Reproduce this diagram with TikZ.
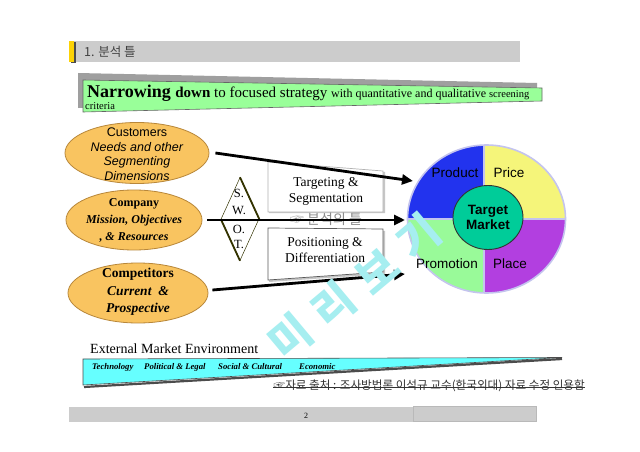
\documentclass[tikz,border=0pt]{standalone}
\usepackage{fontspec}
\setmainfont{Liberation Serif}
\setsansfont{Liberation Sans}
\newfontfamily\kr{Noto Sans CJK KR}
\usetikzlibrary{shapes.geometric,arrows.meta}
\definecolor{barg}{HTML}{CCCCCC}
\definecolor{bannerg}{HTML}{99FF99}
\definecolor{ellfill}{HTML}{F9C460}
\definecolor{ellshadow}{HTML}{B8873A}
\definecolor{prodc}{HTML}{2233EE}
\definecolor{pricec}{HTML}{F5F57A}
\definecolor{promoc}{HTML}{99FA99}
\definecolor{placec}{HTML}{B23FE0}
\definecolor{tmc}{HTML}{00CC99}
\definecolor{lav}{HTML}{C4C4EE}
\definecolor{envc}{HTML}{66FFFF}
\definecolor{wmc}{HTML}{A6EEF0}
\definecolor{olive}{HTML}{333300}
\tikzset{
  envell/.style={ellipse, fill=ellfill, draw=ellshadow, line width=0.8pt, inner sep=0pt},
  elltext/.style={align=center, inner sep=0pt},
  arr/.style={line width=2.8pt, -{Triangle[length=11pt,width=10pt]}},
  swotl/.style={font=\fontsize{12.5}{13}\selectfont, inner sep=0pt},
  boxtext/.style={align=center, font=\fontsize{13.5}{16}\selectfont, inner sep=0pt},
  mixl/.style={font=\sffamily\fontsize{13.5}{14}\selectfont, inner sep=0pt},
  envword/.style={anchor=base west, font=\bfseries\itshape\fontsize{8.7}{9}\selectfont, inner sep=0pt},
  wm/.style={text=wmc, font=\kr\bfseries\fontsize{44}{44}\selectfont, rotate=40, inner sep=0pt}
}
\begin{document}
\begin{tikzpicture}[x=1pt,y=-1pt]
\useasboundingbox (0,0) rectangle (640,452);
\fill[white] (0,0) rectangle (640,452);

% title bar
\fill[barg] (69,41) rectangle (520,62);
\fill[black!70] (71,42) rectangle (76,63);
\fill[yellow!70!orange] (69,41) rectangle (74,62);
\node[anchor=west, font=\kr\fontsize{12.5}{14}\selectfont, text=black!75, inner sep=0pt] (title) at (84,52) {1. 분석 틀};

% banner
\fill[gray!75] (78,73) -- (537,83) -- (537,98) -- (78,108) -- cycle;
\filldraw[fill=bannerg, draw=black!60, line width=0.6pt] (83,80) -- (542,88) -- (542,101) -- (83,112) -- cycle;
\node[anchor=base west, inner sep=0pt] (head) at (87,97) {{\fontsize{18}{18}\selectfont\bfseries Narrowing }{\fontsize{15}{15}\selectfont\bfseries down }{\fontsize{15}{15}\selectfont to focused strategy }{\fontsize{12}{12}\selectfont with quantitative and qualitative }{\fontsize{10.5}{10.5}\selectfont screening}};
\node[anchor=base west, inner sep=0pt, font=\fontsize{10.5}{11}\selectfont] (crit) at (85,110) {criteria};

% ellipses
\node[envell, minimum width=144pt, minimum height=61pt] (cust) at (137,153) {};
\node[envell, minimum width=136pt, minimum height=60pt] (comp) at (134,220) {};
\node[envell, minimum width=140pt, minimum height=60pt] (compet) at (138,293) {};
\node[elltext, font=\sffamily\fontsize{12.5}{14.5}\selectfont] (custt) at (137,154) {Customers\\\textit{Needs and other}\\\textit{Segmenting}\\\textit{Dimensions}};
\node[elltext, font=\bfseries\fontsize{12}{17}\selectfont] (compt) at (134,220) {Company\\\textit{Mission, Objectives}\\\textit{, \& Resources}};
\node[elltext, font=\bfseries\fontsize{13.5}{17.5}\selectfont] (compett) at (138,292) {Competitors\\\textit{Current\ \ \&}\\\textit{Prospective}};

% boxes
\fill[gray!45] (269,164) -- (385,172) -- (385,213) -- (269,213) -- cycle;
\filldraw[fill=white, draw=gray!60, line width=0.7pt] (268,162) -- (383,171) -- (383,212) -- (268,212) -- cycle;
\node[boxtext] (tseg) at (326,191) {Targeting \&\\Segmentation};
\fill[gray!45] (269,230) -- (385,231) -- (385,274) -- (269,282) -- cycle;
\filldraw[fill=white, draw=black!65, line width=0.7pt] (268,228) -- (383,229) -- (383,272) -- (268,280) -- cycle;
\node[boxtext] (pdiff) at (325,250) {Positioning \&\\Differentiation};

% faint label
\node[font=\kr\fontsize{14}{14}\selectfont, text=black!45, inner sep=0pt] (faint) at (326,219) {☞ 분석의 틀};

% SWOT diamond
\node[diamond, draw=olive, line width=0.5pt, fill=white, minimum width=38pt, minimum height=83pt, inner sep=0pt] (swot) at (240,219) {};
\draw[olive, line width=1.8pt] (swot.north) -- (swot.east);
\draw[olive, line width=1.8pt] (swot.west) -- (swot.south);
\node[swotl] (s) at (239,193) {S.};
\node[swotl] (w) at (239,211) {W.};
\node[swotl] (o) at (239,229) {O.};
\node[swotl] (t) at (239,244) {T.};

% marketing mix circle
\node[ellipse, minimum width=158pt, minimum height=148pt, inner sep=0pt] (mix) at (486.5,219) {};
\begin{scope}
\clip (486.5,219) ellipse [x radius=79, y radius=74];
\fill[prodc] (400,140) rectangle (484,219);
\fill[pricec] (484,140) rectangle (570,219);
\fill[promoc] (400,219) rectangle (484,300);
\fill[placec] (484,219) rectangle (570,300);
\draw[lav, line width=2.4pt] (400,219) -- (570,219);
\draw[lav, line width=2.4pt] (484,140) -- (484,300);
\end{scope}
\draw[lav, line width=1.6pt] (486.5,219) ellipse [x radius=79, y radius=74];
\node[mixl] (prod) at (455,173) {Product};
\node[mixl] (price) at (509,173) {Price};
\node[mixl] (promo) at (447,264) {Promotion};
\node[mixl] (place) at (510,264) {Place};
\node[ellipse, fill=tmc, draw=black!80, line width=0.9pt, minimum width=70pt, minimum height=64pt, inner sep=0pt, align=center, font=\sffamily\bfseries\fontsize{13.5}{15.5}\selectfont] (tm) at (488,217.5) {Target\\Market};

% arrows
\coordinate (e1) at (413,181);
\coordinate (e2) at (405,220);
\coordinate (e3) at (405,274);
\draw[arr] ([xshift=6pt]cust.east) -- (e1);
\draw[arr] ([xshift=5pt]comp.east) -- (e2);
\draw[arr] ([xshift=4pt,yshift=3pt]compet.east) -- (e3);

% external market environment
\node[anchor=base west, font=\fontsize{14}{14}\selectfont, inner sep=0pt] (ext) at (90,353) {External Market Environment};
\draw[black!70, line width=2.2pt] (84,387) -- (562,359);
\filldraw[fill=envc, draw=black!70, line width=0.6pt] (83,359) -- (562,357.5) -- (83,385) -- cycle;
\node[envword] (tech) at (92,369) {Technology};
\node[envword] (pol) at (144,369) {Political \& Legal};
\node[envword] (soc) at (218,369) {Social \& Cultural};
\node[envword] (eco) at (299,369) {Economic};

% source
\node[anchor=base east, font=\kr\fontsize{11.6}{12}\selectfont, text=black!80, inner sep=0pt] (src) at (585,389) {☞자료 출처 : 조사방법론 이석규 교수(한국외대) 자료 수정 인용함};
\draw[black!80, line width=0.6pt] ([yshift=2pt]src.base west) -- ([yshift=2pt]src.base east);

% footer
\fill[barg] (69,407) rectangle (537,422);
\draw[gray!55, line width=0.5pt] (413,406.5) rectangle (536,421);
\node[font=\fontsize{8}{8}\selectfont, inner sep=0pt] (pg) at (306,416) {2};

% watermark
\node[wm] (wm1) at (290,337) {미};
\node[wm] (wm2) at (333,305) {리};
\node[wm] (wm3) at (377,271) {보};
\node[wm] (wm4) at (418,237) {기};
\end{tikzpicture}
\end{document}
